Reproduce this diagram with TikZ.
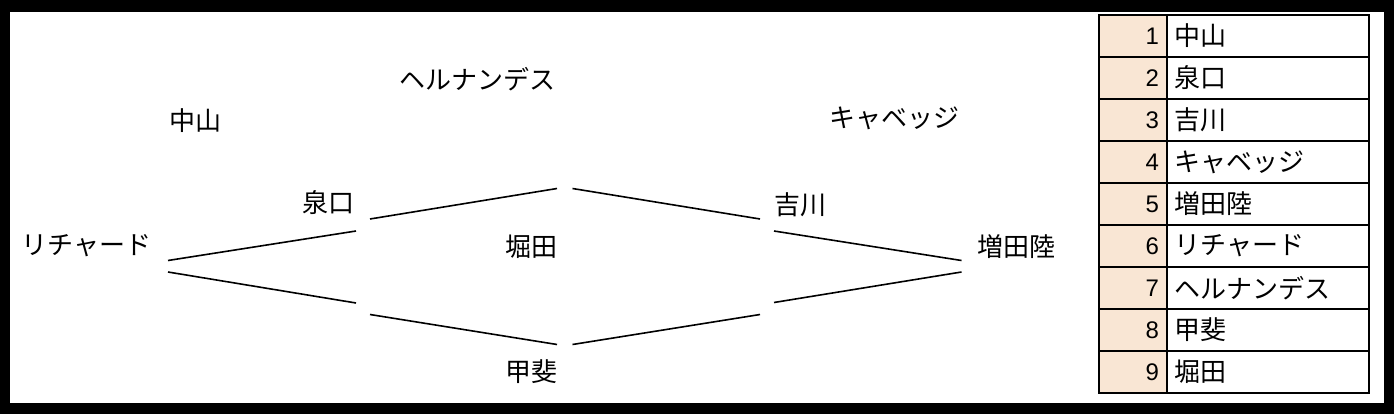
\documentclass[tikz,border=0pt]{standalone}
\usepackage{fontspec}
\setmainfont{Liberation Sans}
\newfontfamily\jp{Noto Sans CJK JP}
\newcommand{\jpt}{\jp\fontsize{26}{31}\selectfont}
\definecolor{peach}{RGB}{249,230,212}
\begin{document}
\begin{tikzpicture}[x=1pt,y=-1pt,
  lbl/.style={font=\jpt, inner sep=0pt},
  br/.style={line width=1.6pt, line cap=butt},
  cellbase/.style={draw, line width=1.8pt, outer sep=0pt, inner ysep=0pt, minimum height=42pt, font=\fontsize{24}{29}\selectfont},
  numcell/.style={cellbase, fill=peach, minimum width=68pt, text width=52pt, inner xsep=8pt, align=right},
  namecell/.style={cellbase, fill=white, minimum width=202pt, text width=187pt, inner xsep=7.5pt, align=left, anchor=west}]
\fill[black] (0,0) rectangle (1394,414);
\fill[white] (10,12) rectangle (1384,402.5);
\useasboundingbox (0,0) rectangle (1394,414);

% labels
\node[lbl] (richard) at (86.5,246) {リチャード};
\node[lbl] (nakayama) at (195.5,121) {中山};
\node[lbl] (hernandez) at (477.5,79) {ヘルナンデス};
\node[lbl] (izumiguchi) at (328.5,203) {泉口};
\node[lbl] (hotta) at (531,247) {堀田};
\node[lbl] (kai) at (531,372) {甲斐};
\node[lbl] (yoshikawa) at (800,205) {吉川};
\node[lbl] (cabbage) at (894,118) {キャベッジ};
\node[lbl] (masuda) at (1016,247) {増田陸};

% bracket end points
\coordinate (a1) at (168,260.5); \coordinate (a2) at (356,231);
\coordinate (b1) at (168,272);   \coordinate (b2) at (356,303);
\coordinate (c1) at (370,219);   \coordinate (c2) at (557,188.5);
\coordinate (d1) at (370,314.5); \coordinate (d2) at (557,344.5);
\coordinate (e1) at (572.5,188.5); \coordinate (e2) at (760,219);
\coordinate (f1) at (774,231);   \coordinate (f2) at (961.5,260.5);
\coordinate (g1) at (774,302.5); \coordinate (g2) at (961.5,272);
\coordinate (h1) at (572.5,344.5); \coordinate (h2) at (760,314.5);
\draw[br] (a1) -- (a2);
\draw[br] (b1) -- (b2);
\draw[br] (c1) -- (c2);
\draw[br] (d1) -- (d2);
\draw[br] (e1) -- (e2);
\draw[br] (f1) -- (f2);
\draw[br] (g1) -- (g2);
\draw[br] (h1) -- (h2);

% table
\node[numcell] (n1) at (1133,36) {1};
\node[namecell] (t1) at (n1.east) {\jpt 中山};
\node[numcell] (n2) at (1133,78) {2};
\node[namecell] (t2) at (n2.east) {\jpt 泉口};
\node[numcell] (n3) at (1133,120) {3};
\node[namecell] (t3) at (n3.east) {\jpt 吉川};
\node[numcell] (n4) at (1133,162) {4};
\node[namecell] (t4) at (n4.east) {\jpt キャベッジ};
\node[numcell] (n5) at (1133,204) {5};
\node[namecell] (t5) at (n5.east) {\jpt 増田陸};
\node[numcell] (n6) at (1133,246) {6};
\node[namecell] (t6) at (n6.east) {\jpt リチャード};
\node[numcell] (n7) at (1133,288) {7};
\node[namecell] (t7) at (n7.east) {\jpt ヘルナンデス};
\node[numcell] (n8) at (1133,330) {8};
\node[namecell] (t8) at (n8.east) {\jpt 甲斐};
\node[numcell] (n9) at (1133,372) {9};
\node[namecell] (t9) at (n9.east) {\jpt 堀田};
\end{tikzpicture}
\end{document}
